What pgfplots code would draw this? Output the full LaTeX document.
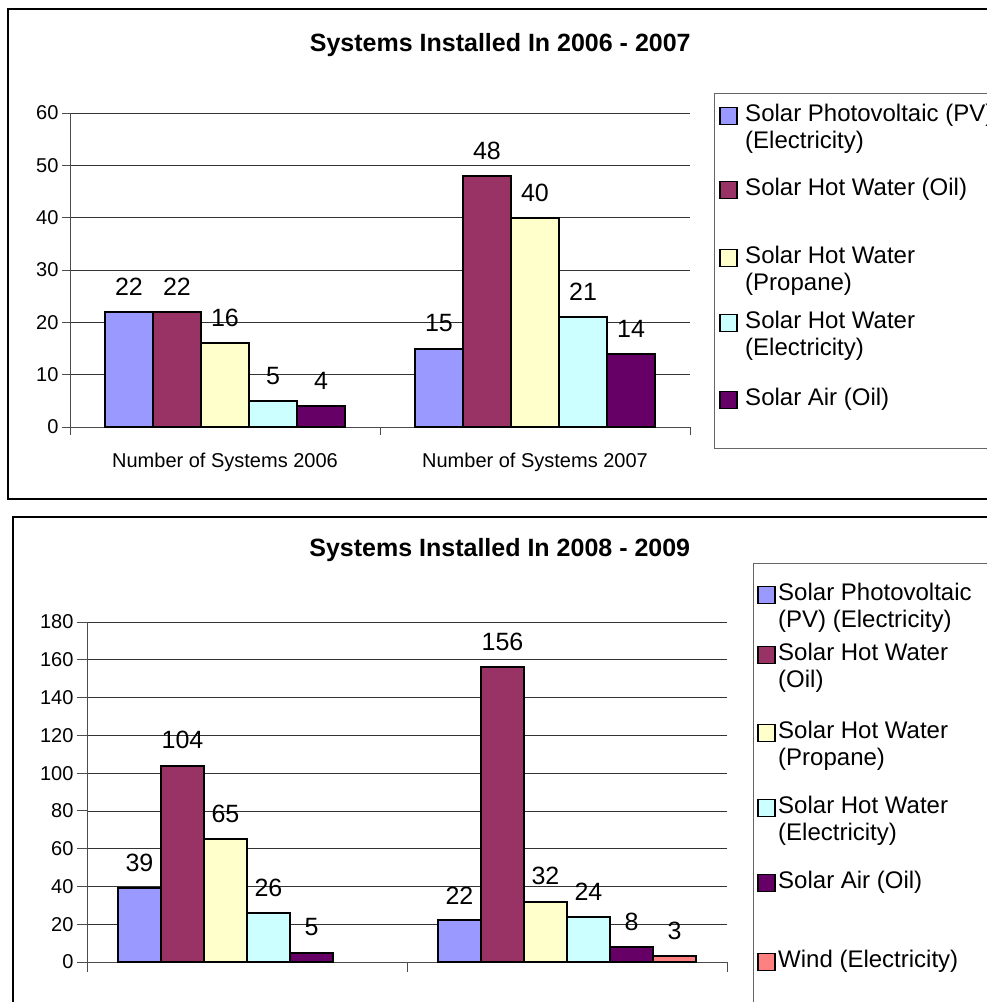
\documentclass[border=0pt]{standalone}
\usepackage{pgfplots}
\pgfplotsset{compat=1.18}
\usepackage{fontspec}
\setmainfont{Liberation Sans}
\definecolor{pv}{HTML}{9999FF}
\definecolor{hwoil}{HTML}{993366}
\definecolor{hwprop}{HTML}{FFFFCC}
\definecolor{hwel}{HTML}{CCFFFF}
\definecolor{air}{HTML}{660066}
\definecolor{wind}{HTML}{FF8080}
\newcommand\lent[2]{\parbox[t][#1][t]{280pt}{\rule{0pt}{18pt}#2}}
\pgfplotsset{
  sqleg/.style={legend image code/.code={\draw[##1, draw=black, line width=1.8pt] (0pt,-3pt) rectangle (17pt,14pt);}},
  excel/.style={
    scale only axis,
    ybar=0pt,
    xmin=-0.5, xmax=1.5, ymin=0,
    xtick={-0.5,0.5,1.5},
    x tick label as interval,
    axis x line*=bottom, axis y line*=left,
    axis line style={-, draw=black!70, line width=0.9pt},
    tick align=outside,
    tick style={draw=black!70, line width=0.9pt},
    ymajorgrids, grid style={draw=black!80, line width=0.8pt},
    ticklabel style={font=\fontsize{20}{24}\selectfont},
    /pgf/number format/assume math mode=true,
    nodes near coords,
    every node near coord/.append style={font=\fontsize{25}{30}\selectfont, yshift=12pt, black},
    clip=false,
    every axis plot/.append style={draw=black, line width=2pt},
    every axis plot post/.append style={sqleg},
    title style={font=\bfseries\fontsize{25}{30}\selectfont, anchor=base},
  }
}
\begin{document}
\begin{tikzpicture}
\clip (0pt,0pt) rectangle (987pt,-1002pt);
\fill[white] (0pt,0pt) rectangle (987pt,-1002pt);
\draw[black, line width=1.5pt] (8pt,-9pt) rectangle (1000pt,-499pt);
\draw[black, line width=1.5pt] (13pt,-517pt) rectangle (1000pt,-1012pt);

\begin{axis}[excel,
  at={(70pt,-427pt)}, anchor=south west,
  width=620pt, height=314pt,
  bar width=48pt,
  ymax=60, ytick={0,10,...,60},
  major tick length=8pt,
  xticklabels={Number of Systems 2006, Number of Systems 2007},
  xticklabel style={yshift=-14pt},
  title={Systems Installed In 2006 - 2007},
  title style={at={(axis description cs:0.694,1)}, yshift=56pt},
  legend style={at={(axis description cs:1.0387,1.0637)}, anchor=north west,
    draw=black!60, line width=0.9pt, font=\fontsize{24}{27}\selectfont,
    inner xsep=5pt, inner ysep=10pt, row sep=0pt, column sep=7pt,
    cells={anchor=base west}, nodes={inner sep=0pt, text depth=}},
]
\addplot[fill=pv] coordinates {(0,22) (1,15)};
\addlegendentry{\lent{74pt}{Solar Photovoltaic (PV)\\(Electricity)}}
\addplot[fill=hwoil] coordinates {(0,22) (1,48)};
\addlegendentry{\lent{68pt}{Solar Hot Water (Oil)}}
\addplot[fill=hwprop] coordinates {(0,16) (1,40)};
\addlegendentry{\lent{65pt}{Solar Hot Water\\(Propane)}}
\addplot[fill=hwel] coordinates {(0,5) (1,21)};
\addlegendentry{\lent{77pt}{Solar Hot Water\\(Electricity)}}
\addplot[fill=air] coordinates {(0,4) (1,14)};
\addlegendentry{\lent{51pt}{Solar Air (Oil)}}
\end{axis}

\begin{axis}[excel,
  at={(87pt,-962pt)}, anchor=south west,
  width=640pt, height=340pt,
  bar width=43pt,
  ymax=180, ytick={0,20,...,180},
  major tick length=10pt,
  xticklabels={},
  title={Systems Installed In 2008 - 2009},
  title style={at={(axis description cs:0.645,1)}, yshift=60pt},
  legend style={at={(axis description cs:1.0406,1.1735)}, anchor=north west,
    draw=black!60, line width=0.9pt, font=\fontsize{24}{27}\selectfont,
    inner xsep=4pt, inner ysep=19pt, row sep=0pt, column sep=2pt,
    cells={anchor=base west}, nodes={inner sep=0pt, text depth=}},
]
\addplot[fill=pv] coordinates {(0,39) (1,22)};
\addlegendentry{\lent{60pt}{Solar Photovoltaic\\(PV) (Electricity)}}
\addplot[fill=hwoil] coordinates {(0,104) (1,156)};
\addlegendentry{\lent{78pt}{Solar Hot Water\\(Oil)}}
\addplot[fill=hwprop] coordinates {(0,65) (1,32)};
\addlegendentry{\lent{75pt}{Solar Hot Water\\(Propane)}}
\addplot[fill=hwel] coordinates {(0,26) (1,24)};
\addlegendentry{\lent{75pt}{Solar Hot Water\\(Electricity)}}
\addplot[fill=air] coordinates {(0,5) (1,8)};
\addlegendentry{\lent{79pt}{Solar Air (Oil)}}
\addplot[fill=wind] coordinates {(1,3)};
\addlegendentry{\lent{60pt}{Wind (Electricity)}}
\end{axis}
\end{tikzpicture}
\end{document}
